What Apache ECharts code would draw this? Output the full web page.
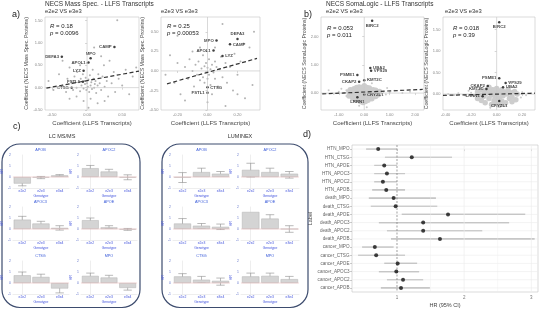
<!DOCTYPE html>
<html>
<head>
<meta charset="utf-8">
<script src="https://cdn.jsdelivr.net/npm/echarts@6/dist/echarts.min.js"></script>
<style>
html, body { margin: 0; padding: 0; background: #fff; }
#main { width: 545px; height: 309px; }
</style>
</head>
<body>
<div id="main"></div>
<script>
// ---------- panel a : NECS Mass Spec. - LLFS Transcripts ----------
var a1Points = [[-0.55,0.15],[-0.48,-0.05],[-0.4,0.3],[-0.35,0.05],[-0.3,-0.1],[-0.28,0.2],[-0.25,0.45],[-0.22,0.1],[-0.2,-0.05],[-0.18,0.25],[-0.15,0.0],[-0.14,0.35],[-0.12,0.12],[-0.1,-0.08],[-0.09,0.2],[-0.08,0.05],[-0.06,0.3],[-0.05,-0.02],[-0.04,0.15],[-0.03,0.08],[-0.02,0.22],[-0.01,-0.05],[0.0,0.1],[0.01,0.02],[0.02,0.18],[0.03,-0.1],[0.04,0.28],[0.05,0.05],[0.06,0.12],[0.07,-0.03],[0.08,0.4],[0.09,0.2],[0.1,0.0],[0.11,0.08],[0.12,0.15],[0.13,-0.12],[0.15,0.05],[0.16,0.3],[0.18,0.1],[0.2,-0.05],[0.22,0.25],[0.24,0.5],[0.25,0.02],[0.28,0.15],[0.3,-0.2],[0.32,0.6],[0.35,0.1],[0.38,0.35],[0.4,-0.1],[0.43,1.51],[0.45,0.2],[0.5,0.05],[0.55,0.4],[0.6,-0.15],[0.65,0.25],[0.7,0.45],[-0.05,-0.3],[0.05,-0.25],[-0.15,-0.2],[0.15,-0.35],[0.02,-0.45],[-0.35,0.6],[0.2,0.7],[0.1,0.9],[0.0,0.55],[-0.1,0.5],[0.25,-0.3],[-0.25,-0.25]];
var a1Genes = ['DEFA3','CAMP','MPO','APOL1','LYZ','FSTL1','CTSG'];
var a1GeneX = [-0.36,0.39,0.05,0.02,-0.05,-0.06,-0.22];
var a1GeneY = [0.69,0.91,0.66,0.56,0.38,0.13,0.0];
var a1Fit = [[-0.58,-0.01],[0.74,0.37]];

var a2Points = [[-0.28,-0.05],[-0.25,0.2],[-0.22,-0.15],[-0.2,0.1],[-0.18,-0.3],[-0.15,0.05],[-0.13,-0.1],[-0.12,0.15],[-0.1,0.0],[-0.09,-0.2],[-0.08,0.08],[-0.07,-0.05],[-0.06,0.12],[-0.05,-0.12],[-0.04,0.03],[-0.03,0.2],[-0.03,-0.08],[-0.02,0.06],[-0.02,-0.15],[-0.01,0.1],[-0.01,-0.02],[0.0,0.04],[0.0,-0.1],[0.01,0.15],[0.01,-0.05],[0.02,0.02],[0.02,-0.18],[0.03,0.08],[0.03,-0.3],[0.04,-0.02],[0.05,0.12],[0.05,-0.1],[0.06,0.05],[0.07,-0.2],[0.08,0.02],[0.09,0.18],[0.1,-0.08],[0.12,0.1],[0.13,-0.15],[0.15,0.05],[0.17,-0.25],[0.18,0.22],[0.2,-0.05],[0.22,0.12],[0.25,-0.35],[0.28,0.3],[0.31,0.5],[0.3,-0.18],[0.1,0.6],[-0.2,0.45],[-0.05,0.3],[0.0,-0.4],[0.12,-0.45],[-0.15,-0.38],[0.05,0.3],[-0.1,0.25],[0.2,-0.3],[0.24,0.35]];
var a2Genes = ['MPO','DEFA3','CAMP','APOL1','LYZ','CTSG','FSTL1'];
var a2GeneX = [0.06,0.2,0.15,0.04,0.1,0.0,0.0];
var a2GeneY = [0.39,0.41,0.34,0.26,0.19,-0.21,-0.28];
var a2Fit = [[-0.27,-0.165],[0.33,0.16]];

// ---------- panel b : NECS SomaLogic - LLFS Transcripts ----------
var b1Points = [[-0.6,0.05],[-0.6,-0.1],[-0.55,0.12],[-0.5,-0.05],[-0.5,0.1],[-0.45,-0.18],[-0.4,0.0],[-0.4,0.15],[-0.35,-0.1],[-0.35,0.08],[-0.3,-0.25],[-0.3,0.02],[-0.3,0.2],[-0.25,-0.05],[-0.25,0.12],[-0.2,-0.18],[-0.2,0.05],[-0.2,0.22],[-0.15,-0.3],[-0.15,-0.08],[-0.15,0.15],[-0.1,-0.15],[-0.1,0.0],[-0.1,0.2],[-0.05,-0.33],[-0.05,-0.05],[-0.05,0.1],[0.0,-0.2],[0.0,0.0],[0.0,0.18],[0.0,0.26],[0.05,-0.1],[0.05,0.08],[0.05,-0.3],[0.1,-0.18],[0.1,0.02],[0.1,0.2],[0.15,-0.05],[0.15,0.12],[0.15,-0.25],[0.2,0.0],[0.2,-0.15],[0.2,0.18],[0.25,-0.08],[0.25,0.1],[0.3,-0.2],[0.3,0.03],[0.35,0.12],[0.35,-0.1],[0.4,0.0],[0.45,-0.12],[0.45,0.1],[0.5,0.02],[0.55,-0.06],[0.6,0.06]];
var b1Sparse = [[-0.8,0.0],[-0.7,0.1],[-0.7,-0.1],[-0.9,0.15],[-1.0,0.05],[-1.2,-0.02],[-1.4,0.1],[0.65,-0.03],[0.75,0.05],[0.85,-0.05],[0.9,0.18],[1.0,0.02],[1.2,0.08],[1.5,0.0],[1.8,0.05],[0.3,0.35],[-0.2,-0.45],[0.1,-0.5]];
var b1Genes = ['BIRC2','UBA2','VPS29','PSME1','CKAP2','KMT2C','CRYZL1','LRRN1'];
var b1GeneX = [0.31,0.24,0.27,-0.27,-0.2,0.0,0.0,-0.27];
var b1GeneY = [2.57,0.89,0.79,0.64,0.4,0.46,-0.05,-0.15];
var b1Fit = [[-1.65,-0.03],[2.3,0.13]];

var b2Points = [[-0.15,0.05],[-0.15,-0.1],[-0.13,-0.02],[-0.12,-0.15],[-0.1,0.08],[-0.1,-0.05],[-0.09,-0.2],[-0.08,0.02],[-0.07,0.12],[-0.06,-0.1],[-0.05,0.05],[-0.04,-0.24],[-0.04,-0.02],[-0.03,0.1],[-0.02,-0.15],[-0.02,0.03],[-0.01,-0.07],[0.0,0.0],[0.0,0.13],[0.0,-0.2],[0.01,0.06],[0.02,-0.1],[0.02,-0.26],[0.03,0.02],[0.04,0.1],[0.04,-0.16],[0.05,-0.04],[0.06,0.05],[0.07,-0.2],[0.08,0.0],[0.09,0.1],[0.1,-0.1],[0.11,0.03],[0.12,-0.06],[0.14,0.06],[0.15,-0.13],[0.16,0.0],[0.06,-0.23],[-0.06,0.16],[-0.12,0.1],[0.12,-0.18]];
var b2Sparse = [[-0.38,0.0],[-0.33,-0.02],[-0.3,0.02],[-0.25,-0.03],[-0.22,0.08],[-0.2,0.03],[-0.18,-0.05],[0.19,-0.08],[0.2,0.04],[0.23,-0.03],[0.27,0.02],[0.1,0.28],[-0.05,-0.32]];
var b2Genes = ['BIRC2','PSME1','VPS29','CKAP2','UBA2','KMT2C','LRRN1','CRYZL1'];
var b2GeneX = [0.02,0.02,0.07,-0.07,0.05,-0.08,-0.11,0.02];
var b2GeneY = [1.67,0.37,0.26,0.19,0.16,0.12,-0.05,-0.16];
var b2Fit = [[-0.42,-0.03],[0.3,0.02]];

// ---------- panel c : bar charts by genotype ----------
var genotypes = ['e2e2', 'e2e3', 'e3e4'];
var proteins = ['APOB', 'APOC2', 'APOC3', 'APOE', 'CTSG', 'MPO'];
var lcMean = [[-0.6,-0.05,0.15],[0.8,0.5,-0.05],[0.85,0.5,0.1],[0.8,0.15,-0.05],[0.7,0.55,-0.5],[0.65,0.5,-0.45]];
var lcLow  = [[-0.8,-0.15,0.08],[0.6,0.3,-0.25],[0.6,0.3,-0.1],[0.6,0.05,-0.12],[0.4,0.3,-0.9],[0.4,0.3,-0.65]];
var lcHigh = [[-0.4,0.05,0.22],[1.05,0.7,0.2],[1.15,0.7,0.3],[1.0,0.3,0.05],[1.0,0.8,-0.1],[0.9,0.7,-0.2]];
var lumMean = [[-0.05,0.45,0.3],[0.65,0.45,0.3],[0.5,0.3,0.2],[1.55,0.95,0.0],[0.6,0.3,0.2],[0.6,0.65,0.35]];
var lumLow  = [[-0.5,0.2,0.1],[0.0,0.2,-0.1],[0.1,0.05,-0.05],[0.98,0.55,-0.3],[0.35,0.05,-0.2],[0.3,0.35,0.1]];
var lumHigh = [[0.4,0.8,0.5],[1.25,0.8,0.5],[0.95,0.5,0.45],[1.02,1.3,0.3],[0.85,0.6,0.45],[0.9,0.9,0.6]];

// ---------- panel d : hazard ratios ----------
var dLabels = ['HTN_MPO','HTN_CTSG','HTN_APOE','HTN_APOC3','HTN_APOC2','HTN_APOB','death_MPO','death_CTSG','death_APOE','death_APOC3','death_APOC2','death_APOB','cancer_MPO','cancer_CTSG','cancer_APOE','cancer_APOC3','cancer_APOC2','cancer_APOB'];
var dHR   = [0.72,1.22,0.81,0.85,0.79,0.84,0.95,0.98,1.76,1.39,1.39,1.64,0.67,0.69,1.01,0.99,1.09,1.06];
var dLow  = [0.54,0.82,0.66,0.66,0.66,0.63,0.58,0.61,1.07,0.73,0.85,0.91,0.48,0.42,0.81,0.73,0.85,0.76];
var dHigh = [1.0,1.82,1.0,1.12,1.0,1.12,1.58,1.6,2.91,2.67,2.27,3.05,0.95,1.12,1.3,1.33,1.39,1.49];

var FONT = 'Liberation Sans';
var chart = echarts.init(document.getElementById('main'));

var grids = [], xAxes = [], yAxes = [], series = [], graphics = [];

function fmt2(v) { return v.toFixed(2); }

function txt(x, y, s, size, o) {
    o = o || {};
    var st = {
        text: s, fontSize: size, fontFamily: FONT, fill: o.color || '#222',
        fontWeight: o.weight || 'normal', textAlign: o.align || 'left',
        textVerticalAlign: 'middle', verticalAlign: 'middle'
    };
    if (o.rich) st.rich = o.rich;
    graphics.push({ type: 'text', x: x, y: y, silent: true, style: st });
}

function statText(x, y, r, p) {
    var rich = { i: { fontStyle: 'italic', fontSize: 6, fontFamily: FONT, fill: '#222' } };
    txt(x, y, '{i|R} = ' + r, 6, { rich: rich });
    txt(x, y + 7.5, '{i|p} = ' + p, 6, { rich: rich });
}

function scatterPanel(p) {
    var gi = grids.length;
    grids.push({ left: p.box[0], top: p.box[1], width: p.box[2], height: p.box[3], show: true,
        borderColor: '#c4c4c4', borderWidth: 0.6, containLabel: false });
    xAxes.push({ gridIndex: gi, type: 'value', min: p.xr[0], max: p.xr[1],
        axisLine: { show: false }, splitLine: { show: false },
        axisTick: { show: true, customValues: p.xt, length: 2, lineStyle: { color: '#aaa', width: 0.5 } },
        axisLabel: { customValues: p.xt, fontSize: 4, color: '#888', margin: 2.5, formatter: fmt2 },
        name: 'Coefficient (LLFS Transcripts)', nameLocation: 'middle', nameGap: 10,
        nameTextStyle: { fontSize: 6, color: '#444', fontFamily: FONT } });
    yAxes.push({ gridIndex: gi, type: 'value', min: p.yr[0], max: p.yr[1],
        axisLine: { show: false }, splitLine: { show: false },
        axisTick: { show: true, customValues: p.yt, length: 2, lineStyle: { color: '#aaa', width: 0.5 } },
        axisLabel: { customValues: p.yt, fontSize: 4, color: '#888', margin: 2.5, formatter: fmt2 },
        name: p.yName, nameLocation: 'middle', nameGap: 10,
        nameTextStyle: { fontSize: 5.2, color: '#444', fontFamily: FONT } });
    // zero reference lines
    series.push({ type: 'line', xAxisIndex: gi, yAxisIndex: gi, data: [[0, p.yr[0]], [0, p.yr[1]]], symbol: 'none', silent: true,
        lineStyle: { color: '#c8c8c8', width: 0.7 } });
    series.push({ type: 'line', xAxisIndex: gi, yAxisIndex: gi, data: [[p.xr[0], 0], [p.xr[1], 0]], symbol: 'none', silent: true,
        lineStyle: { color: '#c8c8c8', width: 0.7 } });
    if (p.sparse) {
        series.push({ type: 'scatter', xAxisIndex: gi, yAxisIndex: gi, data: p.sparse, silent: true,
            symbolSize: 2, itemStyle: { color: '#bdbdbd' } });
    }
    series.push({ type: 'scatter', xAxisIndex: gi, yAxisIndex: gi, data: p.points, silent: true,
        symbolSize: p.ptSize, itemStyle: { color: p.ptColor, opacity: p.ptOpacity } });
    series.push({ type: 'line', xAxisIndex: gi, yAxisIndex: gi, data: p.fit, symbol: 'none', silent: true,
        lineStyle: { color: '#333', width: 1.2, type: [4, 2.5] } });
    series.push({ type: 'scatter', xAxisIndex: gi, yAxisIndex: gi, silent: true,
        data: p.genes.map(function (g, i) {
            return { name: g, value: [p.gx[i], p.gy[i]], label: { position: p.pos[i] } };
        }),
        symbolSize: 2.5, itemStyle: { color: '#111' },
        label: { show: true, formatter: '{b}', fontSize: 4.3, fontWeight: 'bold', color: '#111', distance: 1.5, fontFamily: FONT } });
}

scatterPanel({ box: [45, 17, 94, 93], xr: [-0.6, 0.74], yr: [-0.5, 1.58], xt: [-0.5, 0, 0.5], yt: [-0.5, 0, 0.5, 1, 1.5],
    yName: 'Coefficient (NECS Mass Spec. Proteins)', points: a1Points, ptSize: 2, ptColor: '#aaaaaa', ptOpacity: 0.9,
    fit: a1Fit, genes: a1Genes, gx: a1GeneX, gy: a1GeneY, pos: ['left', 'left', 'top', 'left', 'left', 'left', 'left'] });
scatterPanel({ box: [161, 17, 99, 93], xr: [-0.31, 0.35], yr: [-0.5, 0.69], xt: [-0.2, 0, 0.2], yt: [-0.5, -0.25, 0, 0.25, 0.5],
    yName: 'Coefficient (NECS Mass Spec. Proteins)', points: a2Points, ptSize: 2, ptColor: '#aaaaaa', ptOpacity: 0.9,
    fit: a2Fit, genes: a2Genes, gx: a2GeneX, gy: a2GeneY, pos: ['left', 'top', 'right', 'left', 'right', 'right', 'left'] });
scatterPanel({ box: [321, 17, 103, 93], xr: [-1.7, 2.35], yr: [-0.6, 2.7], xt: [-1, 0, 1, 2], yt: [0, 1, 2],
    yName: 'Coefficient (NECS SomaLogic Proteins)', points: b1Points, sparse: b1Sparse, ptSize: 5.5, ptColor: '#cdcdcd', ptOpacity: 1,
    fit: b1Fit, genes: b1Genes, gx: b1GeneX, gy: b1GeneY, pos: ['bottom', 'right', 'right', 'left', 'left', 'right', 'right', 'bottom'] });
scatterPanel({ box: [443, 17, 92, 93], xr: [-0.42, 0.3], yr: [-0.37, 1.79], xt: [-0.4, -0.2, 0, 0.2], yt: [0, 0.5, 1, 1.5],
    yName: 'Coefficient (NECS SomaLogic Proteins)', points: b2Points, sparse: b2Sparse, ptSize: 5.5, ptColor: '#cdcdcd', ptOpacity: 1,
    fit: b2Fit, genes: b2Genes, gx: b2GeneX, gy: b2GeneY, pos: ['bottom', 'left', 'right', 'left', 'right', 'left', 'left', 'bottom'] });

// panel a/b headings
txt(12, 15, 'a)', 9);
txt(45, 4, 'NECS Mass Spec. - LLFS Transcripts', 6.5, { color: '#333' });
txt(45, 11, 'e2e2 VS e3e3', 5.8, { color: '#333' });
txt(161, 11, 'e2e3 VS e3e3', 5.8, { color: '#333' });
statText(50, 26, '0.18', '0.0096');
statText(167, 26, '0.25', '0.00053');
txt(304, 15, 'b)', 9);
txt(326, 4, 'NECS SomaLogic - LLFS Transcripts', 6.5, { color: '#333' });
txt(326, 11, 'e2e2 VS e3e3', 5.8, { color: '#333' });
txt(445, 11, 'e2e3 VS e3e3', 5.8, { color: '#333' });
statText(327, 28, '0.053', '0.011');
statText(453, 28, '0.018', '0.39');

// ---------- panel c ----------
function barPanel(left, top, width, title, mean, low, high) {
    var gi = grids.length;
    grids.push({ left: left, top: top, width: width, height: 33, show: false, containLabel: false });
    xAxes.push({ gridIndex: gi, type: 'value', min: -0.5, max: 2.5, splitLine: { show: false },
        axisLine: { show: true, onZero: false, lineStyle: { color: '#ddd', width: 0.5 } }, axisTick: { show: false },
        axisLabel: { customValues: [0, 1, 2], fontSize: 3.4, color: '#4455dd', margin: 2,
            formatter: function (v) { return genotypes[Math.round(v)]; } },
        name: 'Genotype', nameLocation: 'middle', nameGap: 6.5, nameTextStyle: { fontSize: 3.4, color: '#4455dd' } });
    yAxes.push({ gridIndex: gi, type: 'value', min: -1, max: 2, interval: 1,
        axisLine: { show: true, lineStyle: { color: '#ddd', width: 0.5 } }, axisTick: { show: false }, splitLine: { show: false },
        axisLabel: { fontSize: 3.4, color: '#6677cc', margin: 2 },
        name: 'HR', nameLocation: 'middle', nameGap: 6, nameTextStyle: { fontSize: 3.4, color: '#4455dd' } });
    series.push({ type: 'line', xAxisIndex: gi, yAxisIndex: gi, data: [[-0.5, 0], [2.5, 0]], symbol: 'none', silent: true,
        lineStyle: { color: '#eab0b0', width: 0.5 } });
    series.push({ type: 'bar', xAxisIndex: gi, yAxisIndex: gi, silent: true, barWidth: width / 3 * 0.9,
        data: mean.map(function (v, i) { return [i, v]; }),
        itemStyle: { color: '#d4d4d4', borderColor: '#b3b3b3', borderWidth: 0.5 } });
    series.push({ type: 'custom', xAxisIndex: gi, yAxisIndex: gi, silent: true,
        data: mean.map(function (m, i) { return [i, low[i], high[i]]; }),
        encode: { x: 0, y: [1, 2] },
        renderItem: function (params, api) {
            var i = api.value(0);
            var p1 = api.coord([i, api.value(1)]), p2 = api.coord([i, api.value(2)]);
            var half = width / 3 * 0.22;
            var st = { stroke: '#8c8c8c', lineWidth: 0.6 };
            return { type: 'group', children: [
                { type: 'line', shape: { x1: p1[0], y1: p1[1], x2: p2[0], y2: p2[1] }, style: st },
                { type: 'line', shape: { x1: p1[0] - half, y1: p1[1], x2: p1[0] + half, y2: p1[1] }, style: st },
                { type: 'line', shape: { x1: p2[0] - half, y1: p2[1], x2: p2[0] + half, y2: p2[1] }, style: st }
            ] };
        } });
    txt(left + width / 2, top - 5, title, 3.8, { color: '#3a5bd9', align: 'center' });
}

var rowTops = [155, 207, 261];
var lcLefts = [12, 81], lcWidths = [57, 56];
var lumLefts = [173, 241], lumWidths = [57, 58];
for (var r = 0; r < 3; r++) {
    for (var c = 0; c < 2; c++) {
        var k = r * 2 + c;
        barPanel(lcLefts[c], rowTops[r], lcWidths[c], proteins[k], lcMean[k], lcLow[k], lcHigh[k]);
        barPanel(lumLefts[c], rowTops[r], lumWidths[c], proteins[k], lumMean[k], lumLow[k], lumHigh[k]);
    }
}
graphics.push({ type: 'rect', silent: true, shape: { x: 2, y: 144, width: 138, height: 163.5, r: 18 },
    style: { fill: 'none', stroke: '#3d4c6e', lineWidth: 1.2 } });
graphics.push({ type: 'rect', silent: true, shape: { x: 162, y: 144, width: 146, height: 163.5, r: 18 },
    style: { fill: 'none', stroke: '#3d4c6e', lineWidth: 1.2 } });
txt(13, 127, 'c)', 9);
txt(62, 136, 'LC MS/MS', 5.5, { align: 'center', color: '#333' });
txt(240, 136, 'LUMINEX', 5.5, { align: 'center', color: '#333' });

// ---------- panel d ----------
var dIdx = dLabels.map(function (l, i) { return i; });
var dg = grids.length;
grids.push({ left: 352, top: 145, width: 186, height: 148, show: true, borderColor: '#c4c4c4', borderWidth: 0.6,
    containLabel: false });
xAxes.push({ gridIndex: dg, type: 'value', min: 0.33, max: 3.1, axisLine: { show: false }, splitLine: { show: false },
    axisTick: { show: true, customValues: [1, 2, 3], length: 2, lineStyle: { color: '#999', width: 0.5 } },
    axisLabel: { customValues: [1, 2, 3], fontSize: 4.5, color: '#777', margin: 3 },
    name: 'HR (95% CI)', nameLocation: 'middle', nameGap: 10, nameTextStyle: { fontSize: 5.5, color: '#444' } });
yAxes.push({ gridIndex: dg, type: 'value', min: -0.5, max: 17.5, inverse: true, axisLine: { show: false },
    splitLine: { show: false },
    axisTick: { show: true, customValues: dIdx, length: 2, lineStyle: { color: '#999', width: 0.5 } },
    axisLabel: { customValues: dIdx, fontSize: 4.6, color: '#666', margin: 2.5,
        formatter: function (v) { return dLabels[Math.round(v)]; } },
    name: 'Label', nameLocation: 'middle', nameGap: 30, nameRotate: 90, nameTextStyle: { fontSize: 5.5, color: '#444' } });

// grid lines of the forest plot
[1.5, 2, 2.5, 3].forEach(function (v) {
    series.push({ type: 'line', xAxisIndex: dg, yAxisIndex: dg, data: [[v, -0.5], [v, 17.5]], symbol: 'none', silent: true,
        lineStyle: { color: '#ececec', width: v % 1 === 0 ? 0.7 : 0.4 } });
});
dIdx.forEach(function (i) {
    series.push({ type: 'line', xAxisIndex: dg, yAxisIndex: dg, data: [[0.33, i], [3.1, i]], symbol: 'none', silent: true,
        lineStyle: { color: '#ececec', width: 0.6 } });
});
series.push({ type: 'line', xAxisIndex: dg, yAxisIndex: dg, data: [[1, -0.5], [1, 17.5]], symbol: 'none', silent: true,
    lineStyle: { color: '#888', width: 0.8, type: [2, 1.5] } });

series.push({ type: 'custom', xAxisIndex: dg, yAxisIndex: dg, silent: true, z: 3,
    data: dIdx.map(function (i) { return [dLow[i], dHigh[i], i]; }),
    encode: { x: [0, 1], y: 2 },
    renderItem: function (params, api) {
        var p1 = api.coord([api.value(0), api.value(2)]), p2 = api.coord([api.value(1), api.value(2)]);
        return { type: 'line', shape: { x1: p1[0], y1: p1[1], x2: p2[0], y2: p2[1] },
            style: { stroke: '#9a9a9a', lineWidth: 1.1 } };
    } });
series.push({ type: 'scatter', xAxisIndex: dg, yAxisIndex: dg, silent: true, z: 4,
    data: dHR.map(function (v, i) { return [v, i]; }), symbolSize: 4, itemStyle: { color: '#111' } });
txt(303, 135, 'd)', 9);

chart.setOption({
    animation: false,
    textStyle: { fontFamily: FONT },
    grid: grids,
    xAxis: xAxes,
    yAxis: yAxes,
    series: series,
    graphic: graphics
});
</script>
</body>
</html>
